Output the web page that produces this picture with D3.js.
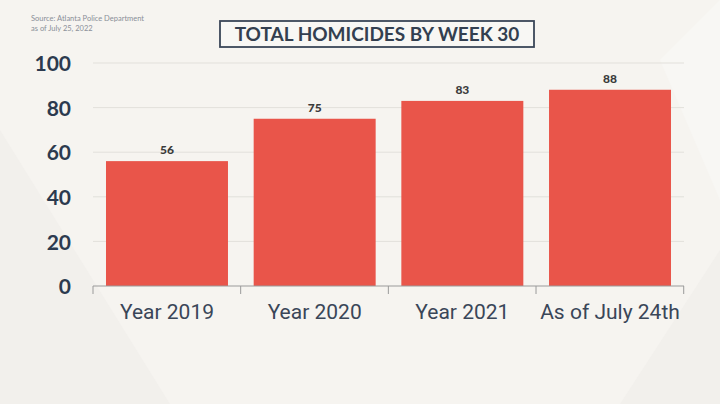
<!DOCTYPE html>
<html>
<head>
<meta charset="utf-8">
<script src="https://cdn.jsdelivr.net/npm/d3@7"></script>
<style>
  body { margin: 0; background: #f6f4f0; }
  svg { display: block; }
</style>
</head>
<body>
<svg id="chart"></svg>
<script>
const categories = ["Year 2019", "Year 2020", "Year 2021", "As of July 24th"];
const values = [56, 75, 83, 88];
const yTicks = [0, 20, 40, 60, 80, 100];
const title = "TOTAL HOMICIDES BY WEEK 30";
const sourceLines = ["Source: Atlanta Police Department", "as of July 25, 2022"];

const width = 720;
const height = 404;
const margin = { t: 63, r: 36, b: 118, l: 93 };

const svg = d3.select("#chart").attr("width", width).attr("height", height);

// soft background facets
svg.append("rect").attr("width", width).attr("height", height).attr("fill", "#f6f4f0");
svg.append("path")
  .attr("d", `M0,130 L170,404 L0,404 Z`)
  .attr("fill", "#f2f0ec");
svg.append("path")
  .attr("d", `M620,404 L720,250 L720,404 Z`)
  .attr("fill", "#f2f0ec");
svg.append("path")
  .attr("d", `M660,60 L720,0 L720,200 Z`)
  .attr("fill", "#f8f7f4");

const x = d3.scaleBand()
  .domain(categories)
  .range([margin.l, width - margin.r])
  .paddingInner(0.174)
  .paddingOuter(0.088);

const y = d3.scaleLinear()
  .domain([0, 100])
  .range([height - margin.b, margin.t]);

// gridlines
svg.append("g")
  .selectAll("line")
  .data(yTicks.filter((d) => d > 0))
  .join("line")
  .attr("x1", margin.l)
  .attr("x2", width - margin.r)
  .attr("y1", (d) => y(d))
  .attr("y2", (d) => y(d))
  .attr("stroke", "#e2e0db")
  .attr("stroke-width", 1);

// y axis labels
const yAxis = d3.axisLeft(y).tickValues(yTicks).tickSize(0).tickPadding(0);
svg.append("g")
  .attr("transform", `translate(${margin.l - 22}, 1)`)
  .call(yAxis)
  .call((g) => g.select(".domain").remove())
  .selectAll("text")
  .attr("font-family", "Lato, sans-serif")
  .attr("font-weight", 700)
  .attr("font-size", 21)
  .attr("fill", "#2c3a4f");

// bars
svg.append("g")
  .selectAll("rect")
  .data(values)
  .join("rect")
  .attr("x", (d, i) => x(categories[i]))
  .attr("y", (d) => y(d))
  .attr("width", x.bandwidth())
  .attr("height", (d) => y(0) - y(d))
  .attr("fill", "#e9554a");

// value labels
svg.append("g")
  .selectAll("text")
  .data(values)
  .join("text")
  .attr("x", (d, i) => x(categories[i]) + x.bandwidth() / 2)
  .attr("y", (d) => y(d) - 7)
  .attr("text-anchor", "middle")
  .attr("font-family", "Lato, sans-serif")
  .attr("font-weight", 900)
  .attr("font-size", 12)
  .attr("fill", "#3b3b3b")
  .text((d) => d);

// x axis
const xAxis = d3.axisBottom(x).tickSize(0).tickPadding(18);
const xg = svg.append("g")
  .attr("transform", `translate(0, ${y(0)})`)
  .call(xAxis);
xg.select(".domain").attr("stroke", "#9a9a9a").attr("d", `M${margin.l},0H${width - margin.r}`);
xg.selectAll("text")
  .attr("font-family", "Roboto, sans-serif")
  .attr("font-size", 21)
  .attr("fill", "#3a4658");

// tick marks at band boundaries
xg.selectAll(".boundary")
  .data(d3.range(categories.length + 1))
  .join("line")
  .attr("class", "boundary")
  .attr("x1", (i) => margin.l + i * x.step())
  .attr("x2", (i) => margin.l + i * x.step())
  .attr("y1", 0)
  .attr("y2", 8)
  .attr("stroke", "#9a9a9a");

// title box
const titleG = svg.append("g").attr("transform", "translate(377, 34)");
titleG.append("rect")
  .attr("x", -157)
  .attr("y", -13)
  .attr("width", 314)
  .attr("height", 26)
  .attr("fill", "#f8f7f4")
  .attr("stroke", "#3a4658")
  .attr("stroke-width", 1.8);
titleG.append("text")
  .attr("text-anchor", "middle")
  .attr("dy", "0.36em")
  .attr("font-family", "Lato, sans-serif")
  .attr("font-weight", 700)
  .attr("font-size", 19)
  .attr("fill", "#333f50")
  .text(title);

// source note
svg.append("g")
  .selectAll("text")
  .data(sourceLines)
  .join("text")
  .attr("x", 31)
  .attr("y", (d, i) => 21 + i * 10)
  .attr("font-family", "Lato, sans-serif")
  .attr("font-size", 7.5)
  .attr("fill", "#8a8f98")
  .text((d) => d);
</script>
</body>
</html>
